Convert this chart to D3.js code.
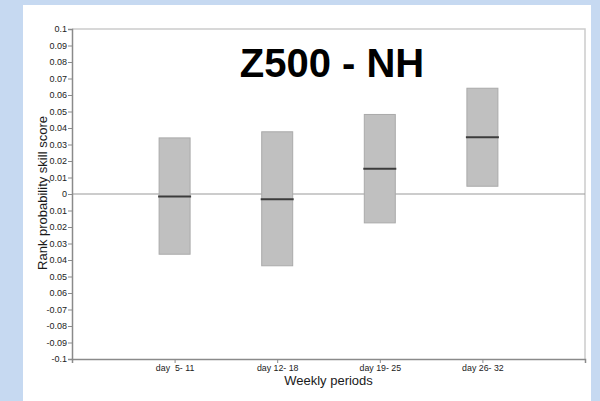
<!DOCTYPE html>
<html>
<head>
<meta charset="utf-8">
<script src="https://cdn.jsdelivr.net/npm/d3@7"></script>
<style>
  html, body { margin: 0; padding: 0; background: #c6d9f1; }
  svg { display: block; }
  text { font-family: "Liberation Sans", Arial, Helvetica, sans-serif; }
</style>
</head>
<body>
<svg id="chart" width="600" height="401"></svg>
<script>
// Weekly periods and the RPSS spread for each one
const periods = ["day  5- 11", "day 12- 18", "day 19- 25", "day 26- 32"];
const boxLow = [-0.0365, -0.0435, -0.0175, 0.0047];
const boxHigh = [0.034, 0.0377, 0.0482, 0.0641];
const boxMid = [-0.0015, -0.0032, 0.0153, 0.0344];

// y-axis tick values and the labels printed beside them
const yTickValues = [0.1, 0.09, 0.08, 0.07, 0.06, 0.05, 0.04, 0.03, 0.02, 0.01, 0,
  -0.01, -0.02, -0.03, -0.04, -0.05, -0.06, -0.07, -0.08, -0.09, -0.1];
const yTickLabels = ["0.1", "0.09", "0.08", "0.07", "0.06", "0.05", "0.04", "0.03", "0.02", "0.01", "0",
  "0.01", "0.02", "0.03", "0.04", "0.05", "0.06", "-0.07", "-0.08", "-0.09", "-0.1"];

const svg = d3.select("#chart");

// white panel inside the blue surround
svg.append("rect")
  .attr("x", 23).attr("y", 5).attr("width", 568).attr("height", 396)
  .attr("fill", "#ffffff");

const plot = { left: 72, right: 585, top: 29, bottom: 359 };

// five equal slots across the axis; the periods sit on the inner four ticks
const x = d3.scalePoint()
  .domain(["_start", ...periods, "_end"])
  .range([plot.left, plot.right])
  .padding(0);

const y = d3.scaleLinear()
  .domain([-0.1, 0.1])
  .range([plot.bottom, plot.top]);

// light frame on top and right
svg.append("path")
  .attr("d", `M${plot.left},${plot.top}H${plot.right}V${plot.bottom}`)
  .attr("fill", "none")
  .attr("stroke", "#cccccc")
  .attr("stroke-width", 1.5);

// zero reference line
svg.append("line")
  .attr("x1", plot.left).attr("x2", plot.right)
  .attr("y1", y(0)).attr("y2", y(0))
  .attr("stroke", "#999999")
  .attr("stroke-width", 1.2);

// boxes
const boxW = 31;
const data = periods.map((p, i) => ({ p, lo: boxLow[i], hi: boxHigh[i], mid: boxMid[i] }));

svg.append("g").selectAll("rect")
  .data(data)
  .join("rect")
  .attr("x", d => x(d.p) - boxW / 2)
  .attr("width", boxW)
  .attr("y", d => y(d.hi))
  .attr("height", d => y(d.lo) - y(d.hi))
  .attr("fill", "#c0c0c0")
  .attr("stroke", "#aaaaaa")
  .attr("stroke-width", 1);

svg.append("g").selectAll("line")
  .data(data)
  .join("line")
  .attr("x1", d => x(d.p) - boxW / 2 - 1)
  .attr("x2", d => x(d.p) + boxW / 2 + 1)
  .attr("y1", d => y(d.mid))
  .attr("y2", d => y(d.mid))
  .attr("stroke", "#3c3c3c")
  .attr("stroke-width", 2);

// y axis
const yAxis = svg.append("g")
  .attr("transform", `translate(${plot.left},0)`)
  .call(d3.axisLeft(y)
    .tickValues(yTickValues)
    .tickSize(4)
    .tickPadding(1)
    .tickFormat((d, i) => yTickLabels[i]));
yAxis.select(".domain").attr("stroke", "#8a8a8a").attr("stroke-width", 1.5);
yAxis.selectAll(".tick line").attr("stroke", "#8a8a8a");
yAxis.selectAll(".tick text")
  .attr("font-size", 9)
  .attr("fill", "#222222")
  .attr("font-family", "Liberation Sans, Arial, sans-serif");

// x axis
const xAxis = svg.append("g")
  .attr("transform", `translate(0,${plot.bottom})`)
  .call(d3.axisBottom(x)
    .tickValues(periods)
    .tickSize(4)
    .tickSizeOuter(4)
    .tickPadding(2));
xAxis.select(".domain").attr("stroke", "#8a8a8a").attr("stroke-width", 1.5);
xAxis.selectAll(".tick line").attr("stroke", "#8a8a8a");
xAxis.selectAll(".tick text")
  .attr("font-size", 8.8)
  .attr("fill", "#222222")
  .attr("font-family", "Liberation Sans, Arial, sans-serif")
  .style("white-space", "pre")
  .attr("xml:space", "preserve");

// axis titles
svg.append("text")
  .attr("x", (plot.left + plot.right) / 2)
  .attr("y", 385)
  .attr("text-anchor", "middle")
  .attr("font-size", 13)
  .attr("fill", "#1a1a1a")
  .text("Weekly periods");

svg.append("text")
  .attr("transform", `translate(47,${(plot.top + plot.bottom) / 2 - 1}) rotate(-90)`)
  .attr("text-anchor", "middle")
  .attr("font-size", 13)
  .attr("fill", "#1a1a1a")
  .text("Rank probability skill score");

// chart title
svg.append("text")
  .attr("x", 332)
  .attr("y", 77)
  .attr("text-anchor", "middle")
  .attr("font-size", 40)
  .attr("font-weight", "bold")
  .attr("fill", "#000000")
  .text("Z500 - NH");
</script>
</body>
</html>
